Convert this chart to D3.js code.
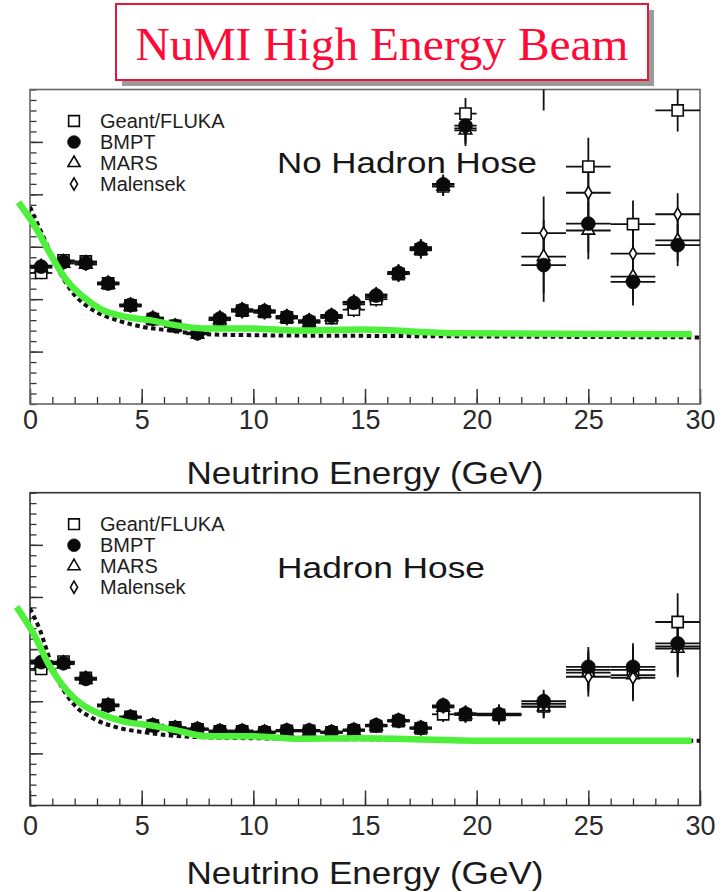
<!DOCTYPE html>
<html>
<head>
<meta charset="utf-8">
<script src="https://cdn.jsdelivr.net/npm/d3@7"></script>
<style>
  body { margin: 0; background: #fff; }
  svg { display: block; }
</style>
</head>
<body>
<script>
// ---- text ----
const chartTitle = "NuMI High Energy Beam";
const xAxisTitle = "Neutrino Energy (GeV)";
const seriesNames = ["Geant/FLUKA", "BMPT", "MARS", "Malensek"];
const panelLabels = ["No Hadron Hose", "Hadron Hose"];
const xMajorTicks = [0, 5, 10, 15, 20, 25, 30];
const xMinorTicks = d3.range(0, 31, 1);
const yMajorTicks = [1, 2, 3, 4, 5];
const yMinorTicks = d3.range(0, 6.01, 0.2);

// ---- no hadron hose: energy bins (GeV) ----
const energyTop = [0.5, 1.5, 2.5, 3.5, 4.5, 5.5, 6.5, 7.5, 8.5, 9.5, 10.5, 11.5, 12.5, 13.5, 14.5, 15.5, 16.5, 17.5, 18.5, 19.5, 23, 25, 27, 29];
const halfWidthTop = [0.5, 0.5, 0.5, 0.5, 0.5, 0.5, 0.5, 0.5, 0.5, 0.5, 0.5, 0.5, 0.5, 0.5, 0.5, 0.5, 0.5, 0.5, 0.5, 0.5, 1, 1, 1, 1];
const geantTop    = [2.50, 2.74, 2.72, 2.30, 1.88, 1.62, 1.49, 1.36, 1.60, 1.78, 1.76, 1.65, 1.56, 1.64, 1.80, 2.00, 2.48, 2.95, 4.15, 5.54, 6.30, 4.53, 3.43, 5.60];
const bmptTop     = [2.62, 2.71, 2.69, 2.30, 1.89, 1.63, 1.49, 1.35, 1.63, 1.79, 1.77, 1.66, 1.58, 1.68, 1.93, 2.07, 2.50, 2.97, 4.19, 5.31, 2.65, 3.44, 2.33, 3.03];
const marsTop     = [2.60, 2.68, 2.66, 2.28, 1.86, 1.60, 1.47, 1.33, 1.60, 1.76, 1.74, 1.63, 1.55, 1.66, 1.90, 2.04, 2.48, 2.93, 4.15, 5.22, 2.81, 3.31, 2.43, 3.12];
const malensekTop = [2.64, 2.73, 2.71, 2.32, 1.90, 1.65, 1.50, 1.36, 1.65, 1.81, 1.79, 1.68, 1.60, 1.70, 1.95, 2.09, 2.52, 2.99, 4.20, 5.26, 3.26, 4.03, 2.87, 3.62];
const errorTop    = [0.12, 0.12, 0.12, 0.12, 0.12, 0.12, 0.12, 0.12, 0.13, 0.13, 0.13, 0.13, 0.13, 0.13, 0.14, 0.14, 0.15, 0.16, 0.18, 0.30, 0.70, 0.55, 0.45, 0.40];

// ---- hadron hose: energy bins (GeV) ----
const energyBot = [0.5, 1.5, 2.5, 3.5, 4.5, 5.5, 6.5, 7.5, 8.5, 9.5, 10.5, 11.5, 12.5, 13.5, 14.5, 15.5, 16.5, 17.5, 18.5, 19.5, 21, 23, 25, 27, 29];
const halfWidthBot = [0.5, 0.5, 0.5, 0.5, 0.5, 0.5, 0.5, 0.5, 0.5, 0.5, 0.5, 0.5, 0.5, 0.5, 0.5, 0.5, 0.5, 0.5, 0.5, 0.5, 1, 1, 1, 1, 1];
const geantBot    = [2.62, 2.76, 2.45, 1.93, 1.70, 1.53, 1.50, 1.46, 1.42, 1.42, 1.40, 1.43, 1.43, 1.40, 1.44, 1.52, 1.62, 1.48, 1.75, 1.74, 1.74, 1.90, 2.60, 2.60, 3.52];
const bmptBot     = [2.75, 2.73, 2.43, 1.92, 1.70, 1.54, 1.49, 1.47, 1.43, 1.43, 1.41, 1.44, 1.44, 1.41, 1.45, 1.54, 1.63, 1.49, 1.92, 1.76, 1.75, 2.00, 2.66, 2.66, 3.11];
const marsBot     = [2.72, 2.71, 2.41, 1.90, 1.68, 1.52, 1.48, 1.45, 1.41, 1.41, 1.39, 1.42, 1.42, 1.39, 1.43, 1.52, 1.61, 1.47, 1.88, 1.74, 1.73, 1.89, 2.55, 2.50, 3.01];
const malensekBot = [2.77, 2.75, 2.45, 1.94, 1.71, 1.55, 1.50, 1.48, 1.44, 1.44, 1.42, 1.45, 1.45, 1.42, 1.46, 1.55, 1.64, 1.50, 1.90, 1.77, 1.76, 1.95, 2.47, 2.45, 3.05];
const errorBot    = [0.12, 0.12, 0.12, 0.12, 0.12, 0.12, 0.12, 0.12, 0.12, 0.12, 0.12, 0.12, 0.12, 0.12, 0.12, 0.13, 0.13, 0.13, 0.15, 0.15, 0.18, 0.22, 0.38, 0.45, 0.55];

// ---- overlaid curves ----
const greenTopE = [-0.52, 0.15, 0.90, 1.64, 2.39, 3.13, 4.33, 5.37, 6.57, 7.91, 9.85, 12.09, 14.78, 19.25, 29.63];
const greenTopV = [3.85, 3.44, 2.87, 2.36, 2.04, 1.82, 1.66, 1.60, 1.50, 1.44, 1.44, 1.40, 1.42, 1.35, 1.33];
const dashTopE  = [0, 0.6, 1.2, 1.94, 2.83, 3.88, 5.07, 6.12, 7.91, 10.6, 14.78, 30];
const dashTopV  = [3.76, 3.19, 2.62, 2.11, 1.79, 1.60, 1.47, 1.41, 1.33, 1.31, 1.30, 1.27];
const greenBotE = [-0.60, 0.15, 0.90, 1.64, 2.39, 3.13, 4.33, 5.37, 6.57, 7.91, 9.85, 12.09, 14.78, 20.45, 29.63];
const greenBotV = [3.81, 3.30, 2.66, 2.21, 1.92, 1.76, 1.60, 1.54, 1.44, 1.33, 1.33, 1.28, 1.29, 1.24, 1.24];
const dashBotE  = [0, 0.45, 0.90, 1.34, 1.94, 2.83, 3.88, 5.37, 7.61, 14.78, 30];
const dashBotV  = [3.78, 3.36, 2.79, 2.34, 1.95, 1.67, 1.50, 1.39, 1.31, 1.27, 1.24];

// ---- drawing ----
const W = 723, H = 892;
const svg = d3.select("body").append("svg").attr("width", W).attr("height", H);

// title box with drop shadow
const tb = { x: 116, y: 4, w: 532, h: 76 };
svg.append("rect").attr("x", tb.x + 6).attr("y", tb.y + 6).attr("width", tb.w).attr("height", tb.h).attr("fill", "#9a9a9a");
svg.append("rect").attr("x", tb.x).attr("y", tb.y).attr("width", tb.w).attr("height", tb.h)
  .attr("fill", "#fff").attr("stroke", "#e8173a").attr("stroke-width", 2);
svg.append("text").attr("x", tb.x + tb.w / 2).attr("y", 60).attr("text-anchor", "middle")
  .attr("font-family", "'Liberation Serif','Times New Roman',serif").attr("font-size", 47)
  .attr("fill", "#ff0a36").attr("textLength", 493).attr("lengthAdjust", "spacingAndGlyphs")
  .text(chartTitle);

const sansFont = "'Liberation Sans',Arial,Helvetica,sans-serif";
const x = d3.scaleLinear().domain([0, 30]).range([30, 700]);

const markerSym = {
  "Geant/FLUKA": d3.symbol(d3.symbolSquare, 125),
  "BMPT": d3.symbol(d3.symbolCircle, 150),
  "MARS": d3.symbol(d3.symbolTriangle, 68),
  "Malensek": d3.symbol(d3.symbolDiamond, 46)
};
const legendSym = {
  "Geant/FLUKA": d3.symbol(d3.symbolSquare, 115),
  "BMPT": d3.symbol(d3.symbolCircle, 125),
  "MARS": d3.symbol(d3.symbolTriangle, 64),
  "Malensek": d3.symbol(d3.symbolDiamond, 44)
};
function drawMarker(g, name, px, py, syms) {
  const filled = name === "BMPT";
  g.append("path").attr("d", syms[name]())
    .attr("transform", `translate(${px},${py})`)
    .attr("fill", filled ? "#0a0a0a" : "#fff")
    .attr("stroke", "#0a0a0a").attr("stroke-width", filled ? 0.8 : 1.6);
}

function drawPanel(cfg, idx) {
  const y = d3.scaleLinear().domain([0, 6]).range([cfg.bottom, cfg.top]);
  const g = svg.append("g");

  const clipId = "clip" + idx;
  svg.append("clipPath").attr("id", clipId).append("rect")
    .attr("x", x(0)).attr("y", cfg.top).attr("width", x(30) - x(0)).attr("height", cfg.bottom - cfg.top);

  // bottom axis: minor and major ticks pointing inward, labels under major ticks
  g.append("g").attr("transform", `translate(0,${cfg.bottom})`)
    .call(d3.axisBottom(x).tickValues(xMinorTicks).tickSizeInner(-7).tickSizeOuter(0).tickFormat(""))
    .call(a => a.select(".domain").remove())
    .call(a => a.selectAll("line").attr("stroke", "#333").attr("stroke-width", 1.3));
  g.append("g").attr("transform", `translate(0,${cfg.bottom})`)
    .call(d3.axisBottom(x).tickValues(xMajorTicks).tickSizeInner(-15).tickSizeOuter(0).tickPadding(cfg.tickPad).tickFormat(d3.format("d")))
    .call(a => a.select(".domain").remove())
    .call(a => a.selectAll("line").attr("stroke", "#333").attr("stroke-width", 1.5))
    .call(a => a.selectAll("text").attr("font-family", sansFont).attr("font-size", 27).attr("fill", "#2a2a2a"));

  // left axis, unlabeled
  g.append("g").attr("transform", `translate(${x(0)},0)`)
    .call(d3.axisLeft(y).tickValues(yMinorTicks).tickSizeInner(-6.5).tickSizeOuter(0).tickFormat(""))
    .call(a => a.select(".domain").remove())
    .call(a => a.selectAll("line").attr("stroke", "#333").attr("stroke-width", 1.3));
  g.append("g").attr("transform", `translate(${x(0)},0)`)
    .call(d3.axisLeft(y).tickValues(yMajorTicks).tickSizeInner(-13).tickSizeOuter(0).tickFormat(""))
    .call(a => a.select(".domain").remove())
    .call(a => a.selectAll("line").attr("stroke", "#333").attr("stroke-width", 1.5));

  // frame
  g.append("rect").attr("x", x(0)).attr("y", cfg.top).attr("width", x(30) - x(0)).attr("height", cfg.bottom - cfg.top)
    .attr("fill", "none").attr("stroke", cfg.frameColor).attr("stroke-width", 1.6);

  // axis title
  g.append("text").attr("x", (x(0) + x(30)) / 2).attr("y", cfg.titleBase).attr("text-anchor", "middle")
    .attr("font-family", sansFont).attr("font-size", 32).attr("fill", "#1a1a1a")
    .attr("textLength", 357).attr("lengthAdjust", "spacingAndGlyphs").text(xAxisTitle);

  // panel label
  g.append("text").attr("x", 277).attr("y", cfg.labelBase)
    .attr("font-family", sansFont).attr("font-size", 30).attr("fill", "#161616")
    .attr("textLength", cfg.labelLen).attr("lengthAdjust", "spacingAndGlyphs").text(cfg.label);

  // legend
  seriesNames.forEach((name, i) => {
    const ly = cfg.top + 31.5 + 21 * i;
    drawMarker(g, name, 74, ly, legendSym);
    g.append("text").attr("x", 100).attr("y", ly).attr("dy", "0.36em")
      .attr("font-family", sansFont).attr("font-size", 20).attr("fill", "#1e1e1e").text(name);
  });

  // dashed curve inside the frame
  const line = d3.line().x(d => x(d[0])).y(d => y(d[1])).curve(d3.curveMonotoneX);
  g.append("path").attr("clip-path", `url(#${clipId})`)
    .attr("d", line(d3.zip(cfg.dashE, cfg.dashV)))
    .attr("fill", "none").attr("stroke", "#111").attr("stroke-width", 4).attr("stroke-dasharray", "4.5,3.5");

  // data points with error bars
  const pts = g.append("g").attr("clip-path", `url(#${clipId})`);
  const series = [
    ["Geant/FLUKA", cfg.geant], ["MARS", cfg.mars], ["Malensek", cfg.malensek], ["BMPT", cfg.bmpt]
  ];
  series.forEach(([name, vals]) => {
    vals.forEach((v, i) => {
      const e = cfg.energy[i], hw = cfg.halfWidth[i], er = cfg.err[i];
      pts.append("line").attr("x1", x(e - hw)).attr("x2", x(e + hw)).attr("y1", y(v)).attr("y2", y(v))
        .attr("stroke", "#111").attr("stroke-width", 1.8);
      pts.append("line").attr("x1", x(e)).attr("x2", x(e)).attr("y1", y(v - er)).attr("y2", y(v + er))
        .attr("stroke", "#111").attr("stroke-width", 1.8);
    });
  });
  series.forEach(([name, vals]) => {
    vals.forEach((v, i) => drawMarker(pts, name, x(cfg.energy[i]), y(v), markerSym));
  });

  // green overlay curve
  g.append("path").attr("d", line(d3.zip(cfg.greenE, cfg.greenV)))
    .attr("fill", "none").attr("stroke", "#4ff03b").attr("stroke-width", 6.5);
}

drawPanel({
  top: 89.5, bottom: 404, tickPad: 6, titleBase: 484, labelBase: 173, labelLen: 260,
  label: panelLabels[0], frameColor: "#666",
  energy: energyTop, halfWidth: halfWidthTop, err: errorTop,
  geant: geantTop, bmpt: bmptTop, mars: marsTop, malensek: malensekTop,
  greenE: greenTopE, greenV: greenTopV, dashE: dashTopE, dashV: dashTopV
}, 0);

drawPanel({
  top: 492.7, bottom: 805.5, tickPad: 10, titleBase: 884, labelBase: 578, labelLen: 208,
  label: panelLabels[1], frameColor: "#333",
  energy: energyBot, halfWidth: halfWidthBot, err: errorBot,
  geant: geantBot, bmpt: bmptBot, mars: marsBot, malensek: malensekBot,
  greenE: greenBotE, greenV: greenBotV, dashE: dashBotE, dashV: dashBotV
}, 1);
</script>
</body>
</html>
